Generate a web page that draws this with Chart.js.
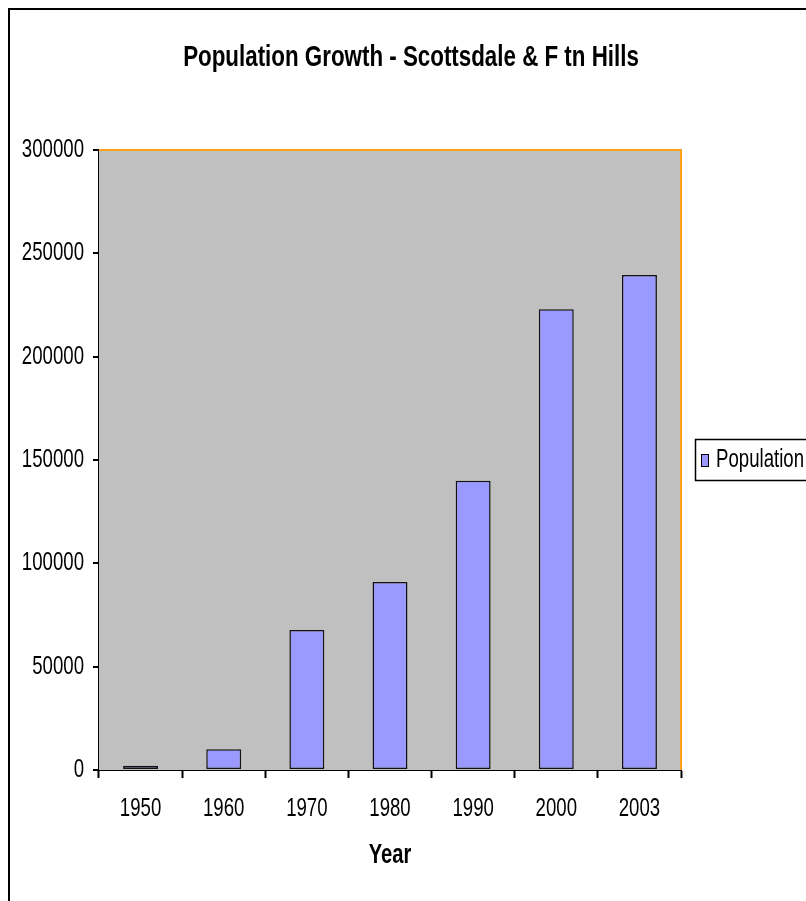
<!DOCTYPE html>
<html>
<head>
<meta charset="utf-8">
<script src="https://cdn.jsdelivr.net/npm/chart.js@4.4.1/dist/chart.umd.min.js"></script>
<style>
  html, body { margin: 0; padding: 0; background: #ffffff; }
  #wrap { width: 806px; height: 901px; position: relative; }
</style>
</head>
<body>
<div id="wrap"><canvas id="chart" width="806" height="901"></canvas></div>
<script>
// Population by census year
const years = ['1950', '1960', '1970', '1980', '1990', '2000', '2003'];
const population = [2000, 10000, 67800, 91000, 140000, 223000, 239500];
const seriesLabel = 'Population';
const chartTitle = 'Population Growth - Scottsdale & F tn Hills';
const axisTitleX = 'Year';

const FONT = "'Liberation Sans', Arial, sans-serif";
const TEXT_SQUEEZE = 0.745;   // horizontal condensing applied to all chart text
const BAR_FILL = '#9999ff';
const PLOT_BG = '#c0c0c0';
const PLOT_EDGE = '#ffa21a';

// Narrow, tall lettering: every fillText is drawn compressed around its anchor point
const condensedText = {
  id: 'condensedText',
  beforeInit(chart) {
    const ctx = chart.ctx;
    const fill = ctx.fillText.bind(ctx);
    ctx.fillText = function (text, x, y, maxWidth) {
      ctx.save();
      ctx.translate(x, y);
      ctx.scale(TEXT_SQUEEZE, 1);
      if (maxWidth === undefined || maxWidth === null) {
        fill(text, 0, 0);
      } else {
        fill(text, 0, 0, maxWidth / TEXT_SQUEEZE);
      }
      ctx.restore();
    };
  }
};

// Grey plot background, orange top/right edge, outer frame, title and boxed legend
const decorations = {
  id: 'decorations',
  beforeDraw(chart) {
    const { ctx, width, height } = chart;
    ctx.save();
    ctx.fillStyle = '#ffffff';
    ctx.fillRect(0, 0, width, height);
    ctx.restore();
  },
  beforeDatasetsDraw(chart) {
    const { ctx, chartArea: a } = chart;
    ctx.save();
    ctx.fillStyle = PLOT_BG;
    ctx.fillRect(a.left, a.top, a.right - a.left, a.bottom - a.top);
    ctx.restore();
  },
  afterDraw(chart) {
    const { ctx, chartArea: a } = chart;
    ctx.save();
    // orange edge on top and right of the plot
    ctx.strokeStyle = PLOT_EDGE;
    ctx.lineWidth = 2;
    ctx.beginPath();
    ctx.moveTo(a.left, a.top);
    ctx.lineTo(a.right, a.top);
    ctx.lineTo(a.right, a.bottom);
    ctx.stroke();

    // outer frame
    ctx.strokeStyle = '#000000';
    ctx.lineWidth = 2;
    ctx.strokeRect(9, 9, 830, 930);

    // title
    ctx.fillStyle = '#000000';
    ctx.font = "bold 30px " + FONT;
    ctx.textAlign = 'center';
    ctx.textBaseline = 'middle';
    ctx.fillText(chartTitle, 411, 58);

    // legend box
    const ds = chart.data.datasets[0];
    ctx.lineWidth = 1.5;
    ctx.strokeStyle = '#000000';
    ctx.strokeRect(695.5, 439.5, 140, 41);
    ctx.fillStyle = ds.backgroundColor;
    ctx.fillRect(701, 454, 7, 12);
    ctx.lineWidth = 1;
    ctx.strokeRect(701.5, 454.5, 7, 12);
    ctx.fillStyle = '#000000';
    ctx.font = "25px " + FONT;
    ctx.textAlign = 'left';
    ctx.textBaseline = 'middle';
    ctx.fillText(ds.label, 716, 460);
    ctx.restore();
  }
};

new Chart(document.getElementById('chart'), {
  type: 'bar',
  data: {
    labels: years,
    datasets: [{
      label: seriesLabel,
      data: population,
      backgroundColor: BAR_FILL,
      borderColor: '#111111',
      borderWidth: 1.5,
      borderSkipped: false,
      barPercentage: 0.42,
      categoryPercentage: 1.0
    }]
  },
  options: {
    responsive: false,
    animation: false,
    devicePixelRatio: 1,
    layout: { padding: { left: 0, right: 125, top: 150, bottom: 0 } },
    plugins: {
      legend: { display: false },
      title: { display: false },
      tooltip: { enabled: false }
    },
    scales: {
      x: {
        grid: {
          offset: true,
          drawOnChartArea: false,
          drawTicks: true,
          tickLength: 8,
          tickColor: '#000000',
          tickWidth: 2
        },
        border: { display: true, color: '#000000', width: 2 },
        ticks: {
          color: '#000000',
          font: { family: FONT, size: 25 },
          padding: 16,
          maxRotation: 0,
          autoSkip: false
        },
        title: {
          display: true,
          text: axisTitleX,
          color: '#000000',
          font: { family: FONT, size: 27, weight: 'bold' },
          padding: { top: 0, bottom: 29 }
        },
        afterFit(scale) { scale.height = 131; }
      },
      y: {
        min: 0,
        max: 300000,
        grid: {
          color: (c) => (c.tick && c.tick.value === 300000 ? 'rgba(0,0,0,0)' : '#000000'),
          lineWidth: 2,
          drawTicks: true,
          tickLength: 6,
          tickColor: '#000000',
          tickWidth: 2
        },
        border: { display: true, color: '#000000', width: 2 },
        ticks: {
          stepSize: 50000,
          color: '#000000',
          font: { family: FONT, size: 25 },
          padding: 9,
          callback: (v) => String(v)
        },
        afterFit(scale) { scale.width = 99; }
      }
    }
  },
  plugins: [condensedText, decorations]
});
</script>
</body>
</html>
